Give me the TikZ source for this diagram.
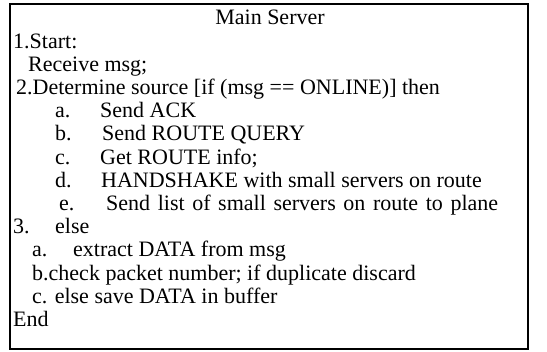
\documentclass[tikz,border=0pt]{standalone}
\usepackage{fontspec}
\setmainfont{Liberation Serif}
\begin{document}
\begin{tikzpicture}[x=1pt,y=-1pt,
  txt/.style={anchor=base west,inner sep=0pt,font=\fontsize{22}{26}\selectfont},
  frame/.style={draw=black,line width=1.5pt,inner sep=0pt,minimum width=518pt,minimum height=345pt}]
\useasboundingbox (0,0) rectangle (547,352);
\node[frame] (box) at (269,176.5) {};
\node[txt,anchor=base] (title) at (270,25) {Main Server};
\node[txt] (s1) at (13,48.2) {1.Start:};
\node[txt] (s1r) at (28,71.4) {Receive msg;};
\node[txt] (s2) at (16,94.6) {2.Determine source [if (msg == ONLINE)] then};
\node[txt] (s2al) at (55,117.8) {a.};
\node[txt] (s2a) at (100,117.8) {Send ACK};
\node[txt] (s2bl) at (55,141) {b.};
\node[txt] (s2b) at (102,141) {Send ROUTE QUERY};
\node[txt] (s2cl) at (55,164.2) {c.};
\node[txt] (s2c) at (100,164.2) {Get ROUTE info;};
\node[txt] (s2dl) at (55,187.4) {d.};
\node[txt] (s2d) at (101,187.4) {HANDSHAKE with small servers on route};
\node[txt] (s2el) at (59,210.6) {e.};
\node[txt] (s2e) at (106,210.6) {\makebox[392pt][s]{Send list of small servers on route to plane}};
\node[txt] (s3) at (13,233.8) {3.};
\node[txt] (s3e) at (55,233.8) {else};
\node[txt] (s3al) at (32,257) {a.};
\node[txt] (s3a) at (73,257) {extract DATA from msg};
\node[txt] (s3b) at (32,280.2) {b.check packet number; if duplicate discard};
\node[txt] (s3c) at (32,303.4) {c. else save DATA in buffer};
\node[txt] (send) at (13,326.6) {End};
\end{tikzpicture}
\end{document}
